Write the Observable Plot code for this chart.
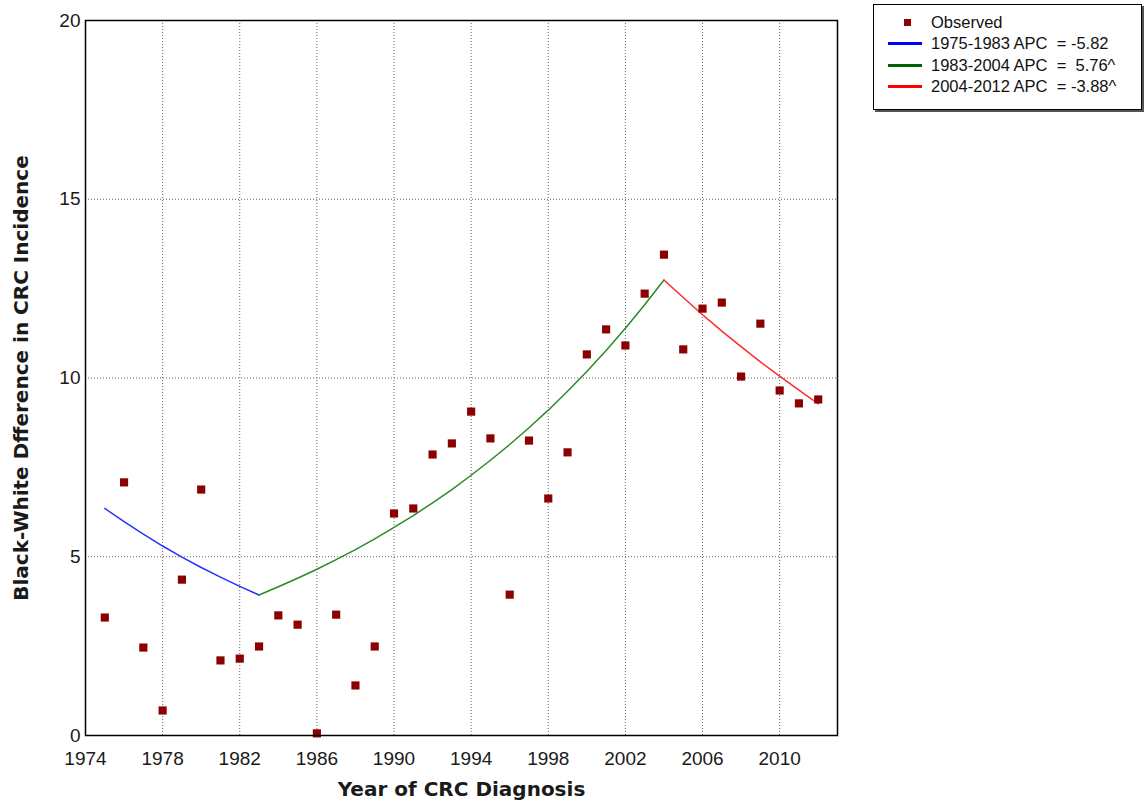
<!DOCTYPE html>
<html><head><meta charset="utf-8">
<script src="https://cdn.jsdelivr.net/npm/d3@7"></script>
<script src="https://cdn.jsdelivr.net/npm/@observablehq/plot@0.6"></script>
<style>
body{margin:0;background:#fff;}
#wrap{position:relative;width:1144px;height:812px;}
#legend{position:absolute;left:873px;top:4px;width:267px;height:104px;border:1px solid #000;box-shadow:2px 2px 0 #555;background:#fff;font-family:"Liberation Sans",Arial,sans-serif;font-size:16.5px;color:#111;}
.row{position:absolute;left:0;height:22px;line-height:22px;white-space:pre;}
.sw{position:absolute;top:10px;left:14px;width:34px;height:3px;}
.mk{position:absolute;top:8px;left:30px;width:7px;height:7px;}
.lt{position:absolute;left:57px;top:0;}
</style></head>
<body><div id="wrap"><div id="chart"></div><div id="legend"></div></div>
<script>
const years = [1975,1976,1977,1978,1979,1980,1981,1982,1983,1984,1985,1986,1987,1988,1989,1990,1991,1992,1993,1994,1995,1996,1997,1998,1999,2000,2001,2002,2003,2004,2005,2006,2007,2008,2009,2010,2011,2012];
const observed = [3.30,7.08,2.46,0.70,4.36,6.88,2.10,2.15,2.49,3.36,3.10,0.06,3.38,1.40,2.49,6.21,6.35,7.86,8.17,9.06,8.31,3.94,8.25,6.63,7.92,10.66,11.36,10.91,12.36,13.45,10.80,11.94,12.11,10.04,11.52,9.65,9.29,9.40];

const seg1Years = [1975,1976,1977,1978,1979,1980,1981,1982,1983];
const seg1Values = [6.35,5.98,5.63,5.30,4.99,4.70,4.43,4.17,3.93];
const seg2Years = [1983,1984,1985,1986,1987,1988,1989,1990,1991,1992,1993,1994,1995,1996,1997,1998,1999,2000,2001,2002,2003,2004];
const seg2Values = [3.93,4.16,4.40,4.65,4.92,5.20,5.50,5.82,6.15,6.51,6.88,7.28,7.70,8.14,8.61,9.10,9.63,10.18,10.77,11.39,12.05,12.74];
const seg3Years = [2004,2005,2006,2007,2008,2009,2010,2011,2012];
const seg3Values = [12.74,12.25,11.77,11.31,10.88,10.45,10.05,9.66,9.28];

const seriesNames = ["Observed","1975-1983 APC  = -5.82","1983-2004 APC  =  5.76^","2004-2012 APC  = -3.88^"];
const seriesColors = ["#8b0000","#0000ff","#006400","#ff0000"];
const lineColors = ["#2233ff","#2a8a2a","#ff2a2a"];

const xTicks = [1974,1978,1982,1986,1990,1994,1998,2002,2006,2010];
const yTicks = [0,5,10,15,20];
const xTitle = "Year of CRC Diagnosis";
const yTitle = "Black-White Dfference in CRC Incidence";

const obsData = years.map((y,i)=>({year:y, value:observed[i]}));
const segs = [[seg1Years,seg1Values],[seg2Years,seg2Values],[seg3Years,seg3Values]]
  .map(([ys,vs])=>ys.map((y,i)=>({year:y,value:vs[i]})));

const grid = {stroke:"#666", strokeOpacity:1, strokeDasharray:"1,2", strokeWidth:1};
const titleFont = {fontFamily:"'DejaVu Sans',Verdana,sans-serif", fontWeight:"bold", fontSize:20, fill:"#1a1a1a"};

const chart = Plot.plot({
  width:1144, height:812,
  marginLeft:85, marginRight:307, marginTop:20, marginBottom:77,
  x:{domain:[1974,2013]},
  y:{domain:[0,20]},
  style:{fontFamily:"'Liberation Sans',Arial,sans-serif", fontSize:"19px", color:"#1a1a1a", background:"#fff"},
  marks:[
    Plot.gridX(xTicks.slice(1), grid),
    Plot.gridY([5,10,15], grid),
    Plot.axisX(xTicks, {tickSize:0, tickPadding:16, tickFormat:d=>String(d), label:null, fontSize:19}),
    Plot.axisY(yTicks, {tickSize:0, tickPadding:5, label:null, fontSize:19}),
    Plot.text([xTitle], {frameAnchor:"bottom", dy:60, text:d=>d, textAnchor:"middle", ...titleFont}),
    Plot.text([yTitle], {frameAnchor:"left", dx:-64, rotate:-90, text:d=>d, textAnchor:"middle", ...titleFont}),
    ...segs.map((s,i)=>Plot.line(s, {x:"year", y:"value", stroke:lineColors[i], strokeWidth:1.5})),
    Plot.dot(obsData, {x:"year", y:"value", symbol:"square", r:4.6, fill:"#8b0000", stroke:"none"}),
    Plot.frame({stroke:"#000", strokeWidth:1.5})
  ]
});
document.getElementById("chart").appendChild(chart);

const legend = document.getElementById("legend");
seriesNames.forEach((name,i)=>{
  const row = document.createElement("div");
  row.className = "row";
  row.style.top = (6 + i*21.35) + "px";
  row.style.width = "100%";
  const m = document.createElement("div");
  if (i===0) { m.className="mk"; m.style.background = seriesColors[0]; }
  else { m.className="sw"; m.style.background = seriesColors[i]; }
  row.appendChild(m);
  const t = document.createElement("div");
  t.className = "lt"; t.textContent = name;
  row.appendChild(t);
  legend.appendChild(row);
});
</script></body></html>
